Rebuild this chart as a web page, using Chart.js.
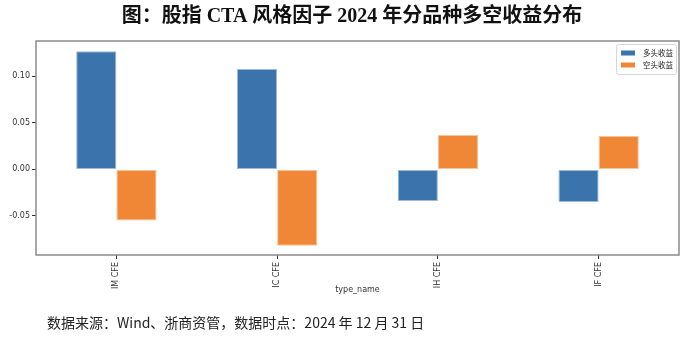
<!DOCTYPE html>
<html>
<head>
<meta charset="utf-8">
<script src="https://cdn.jsdelivr.net/npm/chart.js@4.4.1/dist/chart.umd.min.js"></script>
<style>
  html, body { margin: 0; padding: 0; background: #ffffff; }
  #wrap { position: relative; width: 700px; height: 340px; }
</style>
</head>
<body>
<div id="wrap"><canvas id="c" width="700" height="340"></canvas></div>
<script>
// 品种（x 轴类别）
const categories = ['IM CFE', 'IC CFE', 'IH CFE', 'IF CFE'];
// 多头收益 / 空头收益
const longReturns = [0.127, 0.108, -0.034, -0.035];
const shortReturns = [-0.055, -0.082, 0.037, 0.036];
const seriesNames = ['多头收益', '空头收益'];
// y 轴刻度
const yTicks = [-0.05, 0.00, 0.05, 0.10];

const titleText = '图：股指 CTA 风格因子 2024 年分品种多空收益分布';
const footerText = '数据来源：Wind、浙商资管，数据时点：2024 年 12 月 31 日';

const BLUE = '#3b74ad';
const ORANGE = '#ef8737';

// 标题、脚注、外框与图例
const decorations = {
  id: 'decorations',
  afterDraw(chart) {
    const ctx = chart.ctx;
    const a = chart.chartArea;
    ctx.save();
    // 标题
    ctx.fillStyle = '#111';
    ctx.font = 'bold 20px "Liberation Serif", "Noto Sans CJK SC"';
    ctx.textAlign = 'center';
    ctx.textBaseline = 'middle';
    ctx.fillText(titleText, 352, 17);
    // 脚注
    ctx.font = '14px "Noto Sans CJK SC"';
    ctx.textAlign = 'left';
    ctx.fillStyle = '#222';
    ctx.fillText(footerText, 47, 323);
    // 坐标框
    ctx.strokeStyle = '#8a8a8a';
    ctx.lineWidth = 1.5;
    ctx.strokeRect(a.left, a.top, a.right - a.left, a.bottom - a.top);
    // 图例
    const lx = a.right - 63, ly = a.top + 3, lw = 60, lh = 30;
    ctx.fillStyle = 'rgba(255,255,255,0.8)';
    ctx.strokeStyle = '#d6d6d6';
    ctx.lineWidth = 1;
    ctx.beginPath();
    ctx.roundRect(lx + 0.5, ly + 0.5, lw, lh, 2);
    ctx.fill();
    ctx.stroke();
    ctx.font = '7.5px "Noto Sans CJK SC"';
    ctx.textBaseline = 'middle';
    chart.data.datasets.forEach((ds, i) => {
      const cy = ly + 9 + i * 12;
      ctx.fillStyle = ds.backgroundColor;
      ctx.fillRect(lx + 5, cy - 2.5, 14, 5);
      ctx.fillStyle = '#222';
      ctx.fillText(ds.label, lx + 27, cy);
    });
    ctx.restore();
  }
};

new Chart(document.getElementById('c'), {
  type: 'bar',
  data: {
    labels: categories,
    datasets: [
      { label: seriesNames[0], data: longReturns, backgroundColor: BLUE,
        borderColor: '#9dbbd9', borderWidth: 1, borderSkipped: false },
      { label: seriesNames[1], data: shortReturns, backgroundColor: ORANGE,
        borderColor: '#f7c39b', borderWidth: 1, borderSkipped: false }
    ]
  },
  options: {
    responsive: false,
    animation: false,
    devicePixelRatio: 1,
    layout: { padding: { left: 0, right: 21, top: 41, bottom: 44 } },
    datasets: { bar: { categoryPercentage: 0.5, barPercentage: 1.0 } },
    plugins: {
      legend: { display: false },
      title: { display: false },
      tooltip: { enabled: false }
    },
    scales: {
      x: {
        offset: true,
        afterFit(scale) { scale.height = 41; },
        grid: { display: true, drawOnChartArea: false, drawTicks: true,
                tickLength: 4, tickColor: '#333', offset: false },
        border: { display: false },
        ticks: {
          color: '#333', padding: 3, maxRotation: 90, minRotation: 90,
          font: { family: '"DejaVu Sans"', size: 8 }
        },
        title: {
          display: true, text: 'type_name', color: '#333',
          font: { family: '"DejaVu Sans"', size: 8 },
          padding: { top: 0, bottom: 1 }
        }
      },
      y: {
        min: -0.092,
        max: 0.138,
        afterFit(scale) { scale.width = 36; },
        afterBuildTicks(scale) { scale.ticks = yTicks.map(v => ({ value: v })); },
        grid: { display: true, drawOnChartArea: false, drawTicks: true,
                tickLength: 4, tickColor: '#333' },
        border: { display: false },
        ticks: {
          color: '#333', padding: 2, includeBounds: false,
          font: { family: '"DejaVu Sans"', size: 8 },
          callback: v => Number(v).toFixed(2)
        }
      }
    }
  },
  plugins: [decorations]
});
</script>
</body>
</html>
